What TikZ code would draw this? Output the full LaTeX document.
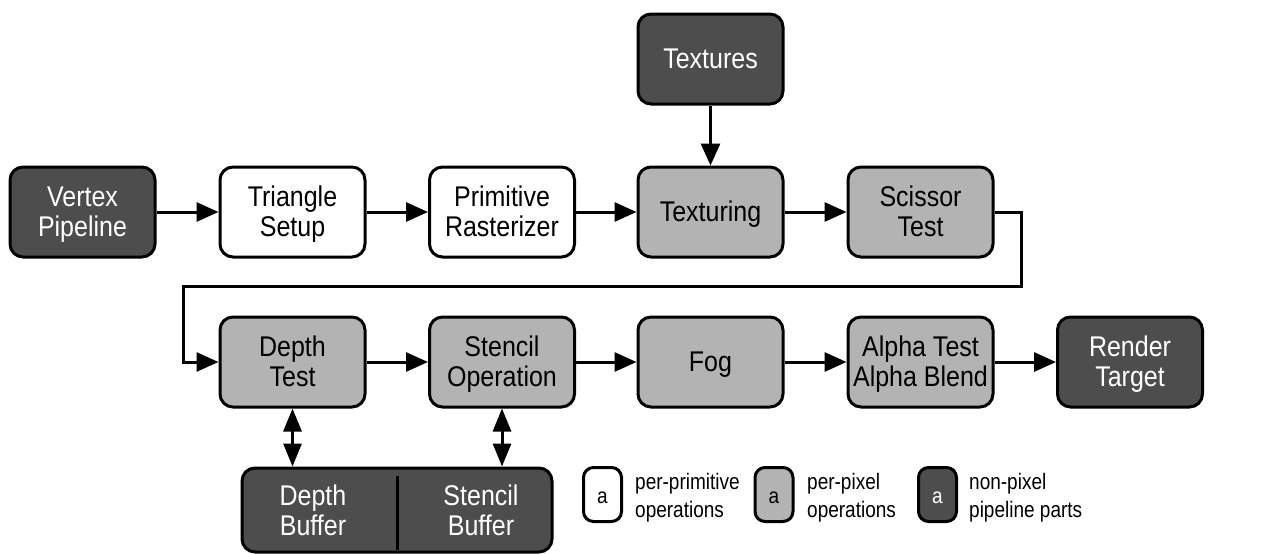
\documentclass[tikz,border=0pt]{standalone}
\usepackage{fontspec}
\usepackage{graphicx}
\setmainfont{Liberation Sans}
\usetikzlibrary{arrows.meta}
\definecolor{darkbox}{HTML}{4D4D4D}
\definecolor{lightbox}{HTML}{B3B3B3}
\newcommand{\stx}[1]{\raisebox{-3.5pt}[\height][\depth]{\scalebox{1}[1.14]{\begin{tabular}{@{}c@{}}#1\end{tabular}}}}
\newcommand{\ltx}[1]{\raisebox{-1.5pt}[\height][\depth]{\scalebox{1}[1.18]{\begin{tabular}{@{}l@{}}#1\end{tabular}}}}
\tikzset{
  blk/.style={draw=black, line width=3pt, rounded corners=13pt, minimum width=145pt, minimum height=90pt, inner sep=0pt, font=\fontsize{25pt}{26.3pt}\selectfont},
  prim/.style={blk, fill=white, text=black},
  pix/.style={blk, fill=lightbox, text=black},
  nonpix/.style={blk, fill=darkbox, text=white},
  conn/.style={line width=3pt, -{Triangle[length=22pt,width=19pt]}},
  dconn/.style={line width=3pt, {Triangle[length=23pt,width=18pt]}-{Triangle[length=23pt,width=18pt]}},
  leg/.style={draw=black, line width=3pt, rounded corners=10pt, minimum width=38pt, minimum height=54pt, inner sep=0pt, font=\fontsize{19pt}{23pt}\selectfont},
  legtxt/.style={anchor=west, inner sep=0pt, font=\fontsize{19pt}{24pt}\selectfont},
  buftxt/.style={text=white, inner sep=0pt, font=\fontsize{25pt}{26.3pt}\selectfont},
}
\begin{document}
\begin{tikzpicture}[x=1pt, y=-1pt]
\useasboundingbox (0,0) rectangle (1269,554);
% row 1
\node[nonpix] (vp) at (82.5,212) {\stx{Vertex\\Pipeline}};
\node[prim] (ts) at (292.5,212) {\stx{Triangle\\Setup}};
\node[prim] (pr) at (502,212) {\stx{Primitive\\Rasterizer}};
\node[pix] (tx) at (710.5,212) {\stx{Texturing}};
\node[pix] (sc) at (920.5,212) {\stx{Scissor\\Test}};
\node[nonpix] (tex) at (710.5,59) {\stx{Textures}};
% row 2
\node[pix] (dt) at (292.5,362) {\stx{Depth\\Test}};
\node[pix] (so) at (502,362) {\stx{Stencil\\Operation}};
\node[pix] (fog) at (710.5,362) {\stx{Fog}};
\node[pix] (at) at (920.5,362) {\stx{Alpha Test\\Alpha Blend}};
\node[nonpix] (rt) at (1130,362) {\stx{Render\\Target}};
% buffers
\node[nonpix, minimum width=310pt, minimum height=84pt] (buf) at (397,510) {};
\node[buftxt] (db) at (313,511) {\stx{Depth\\Buffer}};
\node[buftxt] (sb) at (481,511) {\stx{Stencil\\Buffer}};
\coordinate (divt) at (397,476);
\coordinate (divb) at (397,550);
\draw[line width=3pt] (divt) -- (divb);
% connectors
\draw[conn] (vp) -- (ts);
\draw[conn] (ts) -- (pr);
\draw[conn] (pr) -- (tx);
\draw[conn] (tex) -- (tx);
\draw[conn] (tx) -- (sc);
\coordinate (c1) at (1021,212);
\coordinate (c2) at (1021,286);
\coordinate (c3) at (183,286);
\coordinate (c4) at (183,362);
\draw[conn] (sc.east) -- (c1) -- (c2) -- (c3) -- (c4) -- (dt.west);
\draw[conn] (dt) -- (so);
\draw[conn] (so) -- (fog);
\draw[conn] (fog) -- (at);
\draw[conn] (at) -- (rt);
\draw[dconn] (dt.south) -- (dt.south |- buf.north);
\draw[dconn] (so.south) -- (so.south |- buf.north);
% legend
\node[leg, fill=white] (l1) at (602.5,494.5) {\stx{a}};
\node[legtxt] (l1t) at (635,496) {\ltx{per-primitive\\operations}};
\node[leg, fill=lightbox] (l2) at (774,494.5) {\stx{a}};
\node[legtxt] (l2t) at (807,496) {\ltx{per-pixel\\operations}};
\node[leg, fill=darkbox, text=white] (l3) at (937.5,494.5) {\stx{a}};
\node[legtxt] (l3t) at (969,496) {\ltx{non-pixel\\pipeline parts}};
\end{tikzpicture}
\end{document}
